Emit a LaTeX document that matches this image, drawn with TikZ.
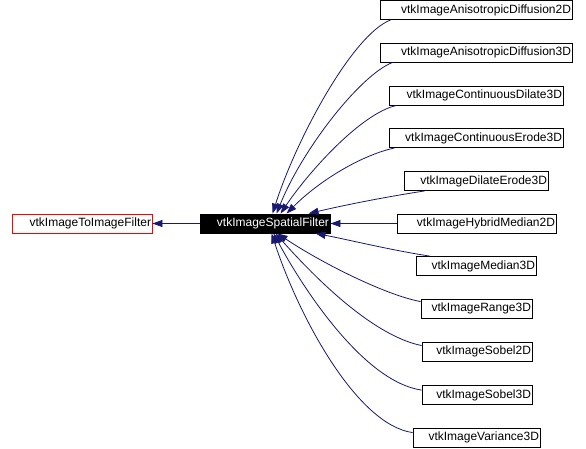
\documentclass[tikz,border=0pt]{standalone}
\usepackage{fontspec}
\setmainfont{Liberation Sans}
\usetikzlibrary{arrows.meta,calc}
\definecolor{edgeblue}{HTML}{191970}
\begin{document}
\begin{tikzpicture}[x=1pt,y=-1pt,
  cls/.style={draw=black, line width=0.9pt, fill=white, inner xsep=1pt, inner ysep=0pt,
    minimum height=19pt, align=right, font=\fontsize{12}{14}\selectfont},
  edge/.style={draw=edgeblue, line width=0.8pt, -{Triangle[length=10pt,width=7pt]}}]
\useasboundingbox (0,0) rectangle (586,448);
\fill[white] (0,0) rectangle (586,448);
% nodes
\node[cls, draw=red, minimum width=140pt, text width=138pt] (TI) at (82,223.5) {vtkImageToImageFilter};
\node[cls, fill=black, text=white, minimum width=130pt, text width=128pt] (SF) at (265,223.5) {vtkImageSpatialFilter};
\node[cls, minimum width=192pt, text width=190pt] (A2D) at (476,10) {vtkImageAnisotropicDiffusion2D};
\node[cls, minimum width=192pt, text width=190pt] (A3D) at (476,52.5) {vtkImageAnisotropicDiffusion3D};
\node[cls, minimum width=174pt, text width=172pt] (CD) at (476,95.5) {vtkImageContinuousDilate3D};
\node[cls, minimum width=174pt, text width=172pt] (CE) at (476,138) {vtkImageContinuousErode3D};
\node[cls, minimum width=144pt, text width=142pt] (DE) at (476,181) {vtkImageDilateErode3D};
\node[cls, minimum width=159pt, text width=157pt] (HM) at (476.5,223.5) {vtkImageHybridMedian2D};
\node[cls, minimum width=120pt, text width=118pt] (M3) at (476,266) {vtkImageMedian3D};
\node[cls, minimum width=111pt, text width=109pt] (R3) at (476.5,308.5) {vtkImageRange3D};
\node[cls, minimum width=110pt, text width=108pt] (S2) at (477,351.5) {vtkImageSobel2D};
\node[cls, minimum width=110pt, text width=108pt] (S3) at (477,395) {vtkImageSobel3D};
\node[cls, minimum width=127pt, text width=125pt] (V3) at (476.5,437.5) {vtkImageVariance3D};
% edges
\draw[edge] (SF.west) -- (TI.east);
\draw[edge] ($(A2D.south west)+(11,0)$) .. controls (352,35) and (296,140) .. ($(SF.north west)+(73,0)$);
\draw[edge] ($(A3D.south west)+(13,0)$) .. controls (360,75) and (302,150) .. ($(SF.north west)+(77,0)$);
\draw[edge] ($(CD.south west)+(8,0)$) .. controls (362,113) and (310,170) .. ($(SF.north west)+(81,0)$);
\draw[edge] ($(CE.south west)+(6,0)$) .. controls (362,155) and (320,180) .. ($(SF.north west)+(87,0)$);
\draw[edge] ($(DE.south west)+(21,0)$) .. controls (385,197) and (345,205) .. ($(SF.north west)+(109,0)$);
\draw[edge] (HM.west) -- (SF.east);
\draw[edge] ($(M3.north west)+(14,0)$) .. controls (390,250) and (350,240) .. ($(SF.south west)+(116,0)$);
\draw[edge] ($(R3.north west)+(0,3)$) .. controls (385,295) and (320,262) .. ($(SF.south west)+(78,0)$);
\draw[edge] ($(S2.north west)+(0,4)$) .. controls (370,335) and (310,272) .. ($(SF.south west)+(76,0)$);
\draw[edge] ($(S3.north west)+(0,5)$) .. controls (365,382) and (305,292) .. ($(SF.south west)+(74,0)$);
\draw[edge] ($(V3.north west)+(0,5)$) .. controls (358,425) and (300,320) .. ($(SF.south west)+(72,0)$);
\end{tikzpicture}
\end{document}
